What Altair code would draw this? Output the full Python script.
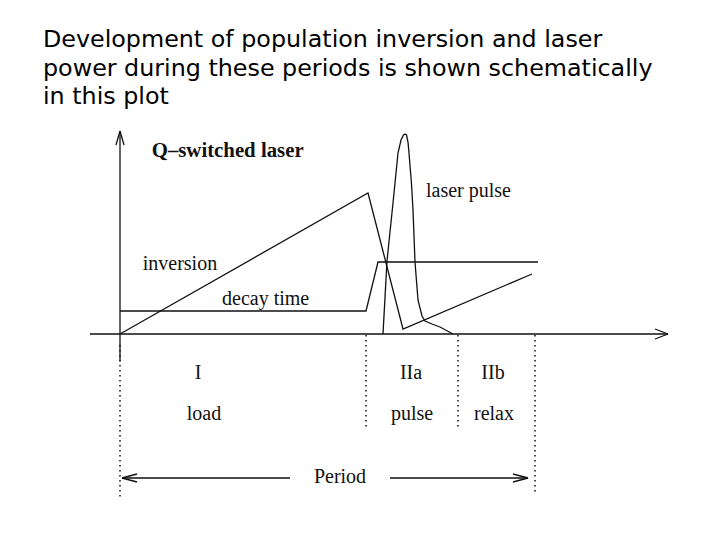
import altair as alt
import pandas as pd

# ---- schematic data (time t, level L; t=0 at vertical axis, L=0 on time axis) ----
INV_T = [0, 248, 283, 412]
INV_L = [0, 141, 5, 60]

PUMP_T = [0, 246, 258, 418]
PUMP_L = [23, 23, 72, 72]

PULSE_T = [263, 267, 273, 278, 281, 283.5, 285, 286.5, 288, 289, 291.5, 293, 295, 298, 302, 305, 312, 320, 333]
PULSE_L = [0, 73, 131, 181, 194, 199, 200, 199, 192, 181, 150, 124, 72, 34, 18, 13, 10, 7, 0]

# solid segments: axes, arrow heads, period arrows
SEG_T1 = [0, -30, 0, 0, 548, 548, 2, 270, 2, 2, 408, 408]
SEG_L1 = [-27, 0, 203, 203, 0, 0, -144, -144, -144, -144, -144, -144]
SEG_T2 = [0, 548, -4, 4, 535, 535, 170, 408, 17, 17, 393, 393]
SEG_L2 = [203, 0, 189, 189, 5, -5, -144, -144, -140, -148, -140, -148]

# dotted phase boundaries
DOT_T = [0, 246, 338, 415]
DOT_TOP = [-11, -1, -1, -1]
DOT_BOT = [-166, -96, -96, -161]

# labels
LAB_TEXT = ["inversion", "decay time", "laser pulse"]
LAB_T = [22.7, 102, 306]
LAB_L = [70, 35, 143]

PHASE_TEXT = ["I", "IIa", "IIb", "load", "pulse", "relax", "Period"]
PHASE_T = [78, 291, 373, 84, 292, 374, 220]
PHASE_L = [-39, -39, -39, -80, -80, -80, -143]

HEAD_TEXT = ["Q\u2013switched laser"]
HEAD_T = [31.7]
HEAD_L = [183]

TITLE_LINES = [
    "Development of population inversion and laser",
    "power during these periods is shown schematically",
    "in this plot",
]
TITLE_T = [-77, -77, -77]
TITLE_L = [287, 258.5, 230]

XS = alt.Scale(domain=[-112, 592], nice=False, zero=False)
YS = alt.Scale(domain=[-198, 326], nice=False, zero=False)
INK = "#111111"
SW = 1.3


def xy(tcol="t", lcol="L"):
    return dict(
        x=alt.X(f"{tcol}:Q", scale=XS, axis=None),
        y=alt.Y(f"{lcol}:Q", scale=YS, axis=None),
    )


curves = pd.concat([
    pd.DataFrame({"t": INV_T, "L": INV_L, "s": "inversion", "o": range(len(INV_T))}),
    pd.DataFrame({"t": PUMP_T, "L": PUMP_L, "s": "pump", "o": range(len(PUMP_T))}),
    pd.DataFrame({"t": PULSE_T, "L": PULSE_L, "s": "pulse", "o": range(len(PULSE_T))}),
])

lines = alt.Chart(curves).mark_line(color=INK, strokeWidth=SW, interpolate="linear").encode(
    **xy(), detail="s:N", order="o:Q"
)

segs = pd.DataFrame({"t": SEG_T1, "L": SEG_L1, "t2": SEG_T2, "L2": SEG_L2})
seg_layer = alt.Chart(segs).mark_rule(color=INK, strokeWidth=SW).encode(
    **xy(), x2="t2:Q", y2="L2:Q"
)

dots = pd.DataFrame({"t": DOT_T, "L": DOT_TOP, "L2": DOT_BOT})
dot_layer = alt.Chart(dots).mark_rule(color=INK, strokeWidth=1.5, strokeDash=[1.5, 3.5]).encode(
    **xy(), y2="L2:Q"
)

labs = pd.DataFrame({"txt": LAB_TEXT, "t": LAB_T, "L": LAB_L})
lab_layer = alt.Chart(labs).mark_text(
    font="Liberation Serif", fontSize=20, align="left", baseline="middle", color=INK
).encode(**xy(), text="txt:N")

phases = pd.DataFrame({"txt": PHASE_TEXT, "t": PHASE_T, "L": PHASE_L})
phase_layer = alt.Chart(phases).mark_text(
    font="Liberation Serif", fontSize=20, align="center", baseline="middle", color=INK
).encode(**xy(), text="txt:N")

head = pd.DataFrame({"txt": HEAD_TEXT, "t": HEAD_T, "L": HEAD_L})
head_layer = alt.Chart(head).mark_text(
    font="Liberation Serif", fontSize=20.8, fontWeight="bold", align="left", baseline="middle", color=INK
).encode(**xy(), text="txt:N")

title = pd.DataFrame({"txt": TITLE_LINES, "t": TITLE_T, "L": TITLE_L})
title_layer = alt.Chart(title).mark_text(
    font="DejaVu Sans", fontSize=23.8, align="left", baseline="alphabetic", color="#000000"
).encode(**xy(), text="txt:N")

chart = alt.layer(
    dot_layer, seg_layer, lines, lab_layer, phase_layer, head_layer, title_layer
).properties(
    width=704, height=524, padding=0, autosize=alt.AutoSizeParams(type="none")
).configure_view(strokeWidth=0)

chart.save("out.html", embed_options={"renderer": "svg", "actions": False})
